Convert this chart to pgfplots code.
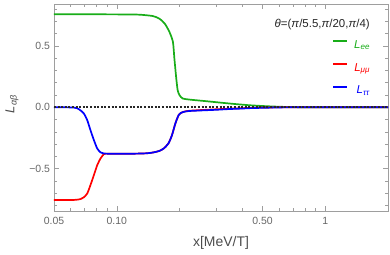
\documentclass[border=0pt]{standalone}
\usepackage{fontspec}
\setmainfont{Liberation Sans}
\usepackage{pgfplots}
\pgfplotsset{compat=1.18}
\definecolor{mgreen}{rgb}{0.1,0.68,0.1}
\definecolor{mred}{rgb}{1,0,0}
\definecolor{mblue}{rgb}{0,0,1}
\definecolor{tickgray}{gray}{0.4}
\definecolor{framegray}{gray}{0.62}
\begin{document}
\begin{tikzpicture}
\useasboundingbox (0,0) rectangle (390bp,255bp);
\begin{axis}[
  at={(54bp,44bp)}, anchor=south west,
  scale only axis, width=334bp, height=207bp,
  xmode=log, xmin=0.05, xmax=2.0,
  ymin=-0.845, ymax=0.84,
  axis line style={framegray, line width=0.6bp},
  xtick={0.05,0.1,0.5,1}, xticklabels={0.05,0.10,0.50,1},
  minor xtick={0.06,0.07,0.08,0.09,0.2,0.3,0.4,0.6,0.7,0.8,0.9},
  ytick={-0.5,0,0.5}, yticklabels={−0.5,0.0,0.5},
  minor ytick={-0.8,-0.7,-0.6,-0.4,-0.3,-0.2,-0.1,0.1,0.2,0.3,0.4,0.6,0.7,0.8},
  tick align=inside,
  major tick length=5bp, minor tick length=3bp,
  every tick/.style={framegray, line width=0.5bp},
  tick label style={font=\fontsize{10.5}{12}\selectfont, text=tickgray},
  xticklabel style={yshift=-3bp},
  yticklabel style={xshift=-0.5bp},
  xlabel={x[MeV/T]},
  every axis x label/.style={at={(rel axis cs:0.5,0)}, anchor=center, yshift=-32bp,
     font=\fontsize{14}{16}\selectfont, text=black!70},
  ylabel={\textit{L}\textsubscript{\textit{αβ}}},
  every axis y label/.style={at={(rel axis cs:0,0.517)}, xshift=-42bp, rotate=90, anchor=center,
     font=\fontsize{13}{15}\selectfont, text=black!70},
  legend cell align=right,
  legend style={draw=none, fill=none, at={(rel axis cs:0.946,0.825)}, anchor=north east,
     inner sep=0pt, outer sep=0pt, nodes={inner sep=0pt}, row sep=13.5bp,
     font=\fontsize{11.5}{13}\selectfont},
  legend image code/.code={\draw[#1, line width=1.8bp, solid] (0bp,3.8bp) -- (14bp,3.8bp); \path (20bp,3.8bp);},
  every axis plot/.append style={line width=1.7bp},
]
% L_ee
\addplot[color=mgreen, smooth, tension=0.4] coordinates {
(0.05,0.756) (0.08,0.756) (0.11,0.755) (0.129,0.753) (0.149,0.742) (0.160,0.721)
(0.170,0.680) (0.179,0.612) (0.186,0.531) (0.189,0.396) (0.193,0.233) (0.196,0.138)
(0.200,0.098) (0.207,0.071) (0.223,0.062) (0.268,0.049) (0.347,0.030) (0.432,0.016)
(0.538,0.007) (0.65,0.002) (0.8,0.0) (2.0,0.0)};
\addlegendentry{\textcolor{mgreen}{\textit{L}\textsubscript{\textit{ee}}}}
% L_mumu
\addplot[color=mred, smooth, tension=0.4] coordinates {
(0.05,-0.756) (0.0623,-0.755) (0.067,-0.748) (0.0695,-0.734) (0.0722,-0.702)
(0.0748,-0.634) (0.0777,-0.553) (0.0806,-0.472) (0.0836,-0.417) (0.0867,-0.382)
(0.0886,-0.378) (0.095,-0.379) (0.104,-0.379) (0.125,-0.378) (0.140,-0.375)
(0.150,-0.368) (0.160,-0.356) (0.168,-0.336) (0.177,-0.295) (0.184,-0.228)
(0.191,-0.133) (0.198,-0.065) (0.204,-0.045) (0.212,-0.035) (0.223,-0.029)
(0.25,-0.024) (0.3,-0.017) (0.35,-0.012) (0.4,-0.008) (0.45,-0.005) (0.5,-0.003)
(0.6,-0.001) (0.7,0.0) (2.0,0.0)};
\addlegendentry{\textcolor{mred}{\textit{L}\textsubscript{\textit{μμ}}}}
% L_tautau
\addplot[color=mblue, smooth, tension=0.4] coordinates {
(0.05,0.0) (0.0623,-0.003) (0.0658,-0.016) (0.0695,-0.051) (0.0722,-0.106)
(0.0748,-0.187) (0.0777,-0.268) (0.0806,-0.336) (0.0836,-0.368) (0.0867,-0.377)
(0.095,-0.379) (0.104,-0.379) (0.125,-0.378) (0.140,-0.375) (0.150,-0.368)
(0.160,-0.356) (0.168,-0.336) (0.177,-0.295) (0.184,-0.228) (0.191,-0.133)
(0.198,-0.065) (0.204,-0.045) (0.212,-0.036) (0.223,-0.031) (0.25,-0.027)
(0.3,-0.021) (0.347,-0.015) (0.4,-0.011) (0.432,-0.008) (0.5,-0.005) (0.6,-0.002)
(0.7,-0.001) (0.8,0.0) (2.0,0.0)};
\addlegendentry{\textcolor{mblue}{\textit{L}\textsubscript{\textit{ττ}}}}
% zero line
\addplot[black!85, line width=1.7bp, dash pattern=on 2bp off 1.6bp, forget plot] coordinates {(0.05,0) (2.0,0)};
\node[anchor=east, inner sep=0pt, font=\fontsize{11.5}{13}\selectfont, text=black!85]
  at (rel axis cs:0.946,0.901) {\textit{θ}=(\textit{π}/5.5,\textit{π}/20,\textit{π}/4)};
\end{axis}
\end{tikzpicture}
\end{document}
